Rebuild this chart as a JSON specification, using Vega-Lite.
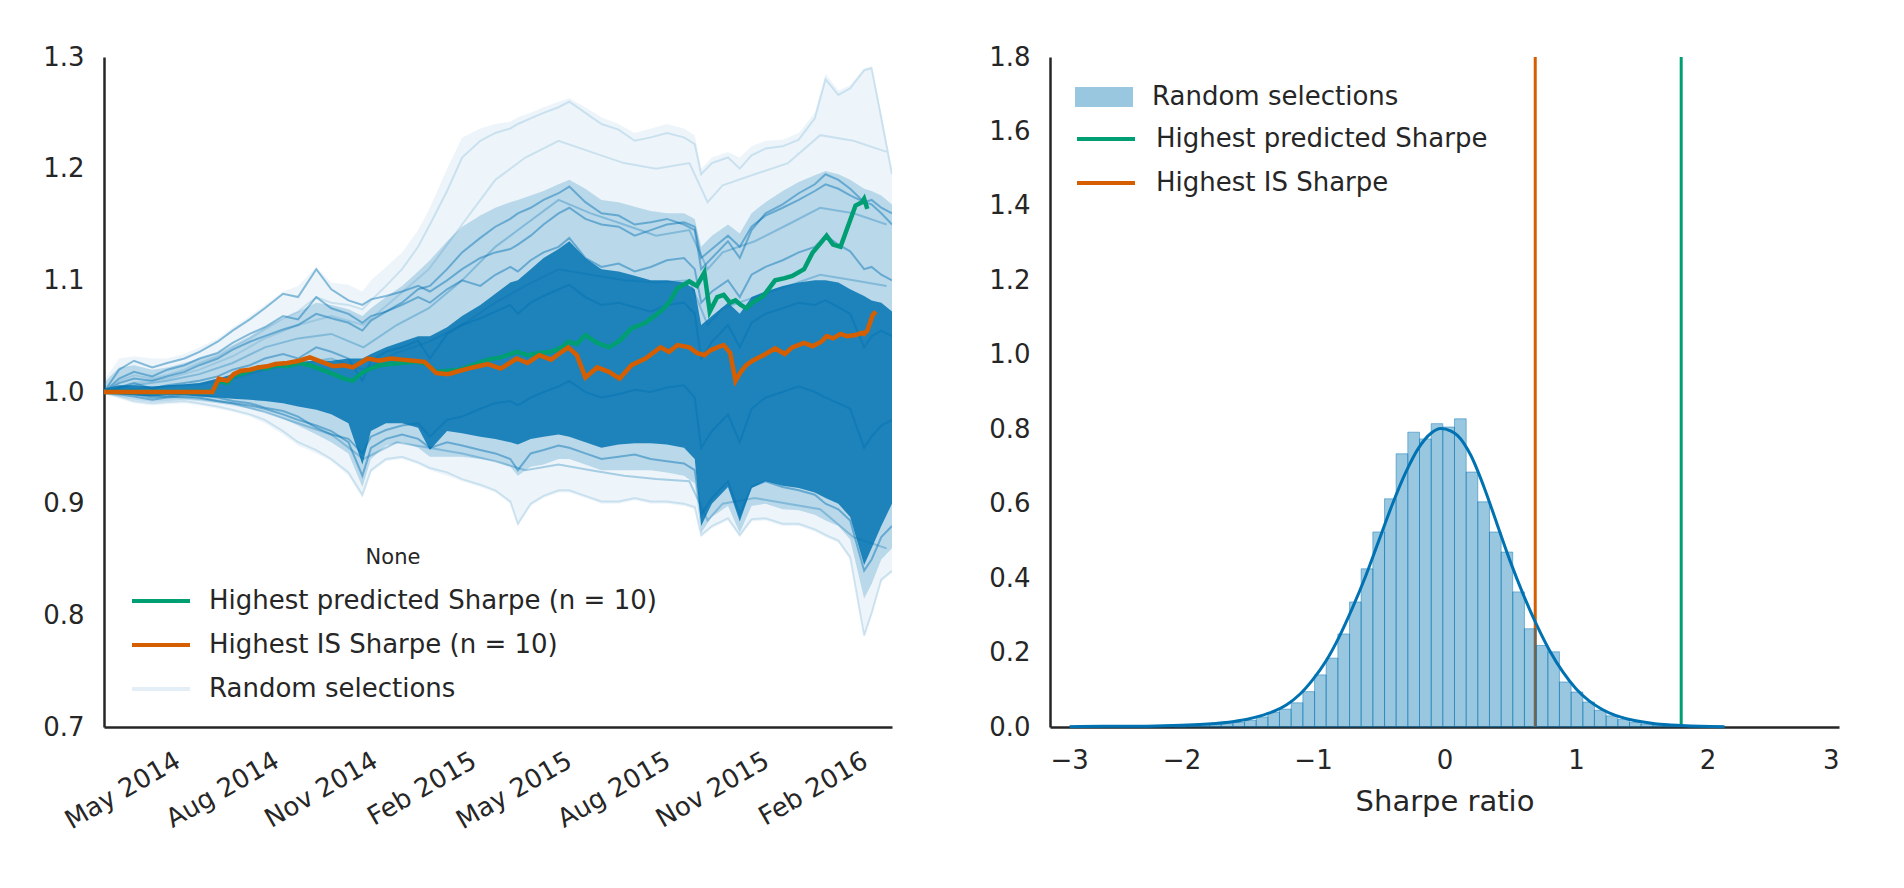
{
  "$schema": "https://vega.github.io/schema/vega-lite/v6.json",
  "background": "white",
  "padding": {"left": 42, "top": 44, "right": 10, "bottom": 10},
  "spacing": 96,
  "config": {
    "font": "DejaVu Sans",
    "view": {"stroke": null},
    "axis": {"grid": false, "ticks": false, "domainColor": "#262626", "domainWidth": 2.5, "labelFont": "DejaVu Sans", "labelFontSize": 26, "labelColor": "#262626", "labelPadding": 20, "titleFont": "DejaVu Sans", "titleFontSize": 29, "titleFontWeight": "normal", "titleColor": "#262626"},
    "legend": {"labelFont": "DejaVu Sans", "labelFontSize": 26, "labelColor": "#262626", "padding": 0, "labelLimit": 1000}
  },
  "datasets": {
    "band": [
      {"d":"2014-02-15","e0":0.998,"m0":0.998,"c0":0.999,"c1":1.003,"m1":1.008,"e1":1.010,"l1":1.000,"l2":1.000,"l3":1.000,"l4":1.000,"l5":1.000,"l6":1.000,"f1":1.000,"f2":1.000},
      {"d":"2014-03-01","e0":0.994,"m0":0.996,"c0":0.998,"c1":1.006,"m1":1.022,"e1":1.030,"l1":1.020,"l2":1.012,"l3":1.004,"l4":0.998,"l5":0.999,"l6":1.008,"f1":1.010,"f2":0.996},
      {"d":"2014-03-15","e0":0.990,"m0":0.993,"c0":0.997,"c1":1.006,"m1":1.024,"e1":1.032,"l1":1.028,"l2":1.018,"l3":1.008,"l4":0.996,"l5":0.998,"l6":1.012,"f1":1.015,"f2":0.992},
      {"d":"2014-04-01","e0":0.988,"m0":0.991,"c0":0.996,"c1":1.005,"m1":1.020,"e1":1.030,"l1":1.022,"l2":1.014,"l3":1.003,"l4":0.993,"l5":0.995,"l6":1.010,"f1":1.012,"f2":0.990},
      {"d":"2014-04-15","e0":0.989,"m0":0.992,"c0":0.997,"c1":1.006,"m1":1.022,"e1":1.030,"l1":1.026,"l2":1.020,"l3":1.006,"l4":0.995,"l5":0.996,"l6":1.014,"f1":1.015,"f2":0.991},
      {"d":"2014-05-01","e0":0.990,"m0":0.993,"c0":0.997,"c1":1.007,"m1":1.026,"e1":1.034,"l1":1.030,"l2":1.024,"l3":1.008,"l4":0.996,"l5":0.998,"l6":1.018,"f1":1.020,"f2":0.992},
      {"d":"2014-05-15","e0":0.988,"m0":0.992,"c0":0.996,"c1":1.008,"m1":1.030,"e1":1.040,"l1":1.036,"l2":1.030,"l3":1.010,"l4":0.995,"l5":0.997,"l6":1.024,"f1":1.026,"f2":0.990},
      {"d":"2014-06-01","e0":0.985,"m0":0.990,"c0":0.995,"c1":1.012,"m1":1.035,"e1":1.048,"l1":1.045,"l2":1.035,"l3":1.014,"l4":0.992,"l5":0.995,"l6":1.030,"f1":1.032,"f2":0.987},
      {"d":"2014-06-15","e0":0.982,"m0":0.988,"c0":0.994,"c1":1.016,"m1":1.042,"e1":1.058,"l1":1.055,"l2":1.044,"l3":1.020,"l4":0.990,"l5":0.992,"l6":1.038,"f1":1.040,"f2":0.984},
      {"d":"2014-07-01","e0":0.978,"m0":0.985,"c0":0.993,"c1":1.020,"m1":1.050,"e1":1.068,"l1":1.065,"l2":1.052,"l3":1.024,"l4":0.988,"l5":0.990,"l6":1.045,"f1":1.048,"f2":0.980},
      {"d":"2014-07-15","e0":0.972,"m0":0.982,"c0":0.992,"c1":1.022,"m1":1.058,"e1":1.078,"l1":1.075,"l2":1.058,"l3":1.030,"l4":0.985,"l5":0.986,"l6":1.050,"f1":1.056,"f2":0.975},
      {"d":"2014-08-01","e0":0.962,"m0":0.976,"c0":0.990,"c1":1.025,"m1":1.066,"e1":1.090,"l1":1.088,"l2":1.068,"l3":1.034,"l4":0.980,"l5":0.983,"l6":1.056,"f1":1.066,"f2":0.965},
      {"d":"2014-08-15","e0":0.952,"m0":0.970,"c0":0.987,"c1":1.027,"m1":1.072,"e1":1.095,"l1":1.085,"l2":1.065,"l3":1.030,"l4":0.975,"l5":0.978,"l6":1.060,"f1":1.072,"f2":0.955},
      {"d":"2014-09-01","e0":0.945,"m0":0.962,"c0":0.984,"c1":1.028,"m1":1.080,"e1":1.112,"l1":1.110,"l2":1.085,"l3":1.040,"l4":0.970,"l5":0.968,"l6":1.070,"f1":1.085,"f2":0.948},
      {"d":"2014-09-15","e0":0.938,"m0":0.955,"c0":0.980,"c1":1.028,"m1":1.078,"e1":1.098,"l1":1.092,"l2":1.075,"l3":1.036,"l4":0.965,"l5":0.962,"l6":1.066,"f1":1.080,"f2":0.940},
      {"d":"2014-10-01","e0":0.925,"m0":0.945,"c0":0.972,"c1":1.030,"m1":1.074,"e1":1.096,"l1":1.082,"l2":1.070,"l3":1.030,"l4":0.955,"l5":0.958,"l6":1.062,"f1":1.078,"f2":0.928},
      {"d":"2014-10-14","e0":0.905,"m0":0.915,"c0":0.935,"c1":1.030,"m1":1.068,"e1":1.090,"l1":1.078,"l2":1.062,"l3":1.010,"l4":0.925,"l5":0.945,"l6":1.055,"f1":1.074,"f2":0.908},
      {"d":"2014-10-22","e0":0.928,"m0":0.940,"c0":0.965,"c1":1.034,"m1":1.075,"e1":1.100,"l1":1.083,"l2":1.068,"l3":1.028,"l4":0.950,"l5":0.960,"l6":1.064,"f1":1.082,"f2":0.930},
      {"d":"2014-11-05","e0":0.938,"m0":0.952,"c0":0.972,"c1":1.040,"m1":1.085,"e1":1.112,"l1":1.086,"l2":1.072,"l3":1.036,"l4":0.958,"l5":0.966,"l6":1.072,"f1":1.095,"f2":0.940},
      {"d":"2014-11-20","e0":0.940,"m0":0.955,"c0":0.972,"c1":1.045,"m1":1.095,"e1":1.125,"l1":1.090,"l2":1.078,"l3":1.040,"l4":0.962,"l5":0.970,"l6":1.080,"f1":1.110,"f2":0.942},
      {"d":"2014-12-05","e0":0.935,"m0":0.950,"c0":0.968,"c1":1.050,"m1":1.108,"e1":1.145,"l1":1.095,"l2":1.085,"l3":1.046,"l4":0.958,"l5":0.972,"l6":1.092,"f1":1.130,"f2":0.937},
      {"d":"2014-12-16","e0":0.930,"m0":0.942,"c0":0.948,"c1":1.050,"m1":1.118,"e1":1.165,"l1":1.090,"l2":1.080,"l3":1.030,"l4":0.950,"l5":0.960,"l6":1.095,"f1":1.150,"f2":0.932},
      {"d":"2015-01-01","e0":0.925,"m0":0.942,"c0":0.965,"c1":1.058,"m1":1.135,"e1":1.200,"l1":1.100,"l2":1.092,"l3":1.052,"l4":0.955,"l5":0.975,"l6":1.110,"f1":1.180,"f2":0.928},
      {"d":"2015-01-15","e0":0.920,"m0":0.942,"c0":0.963,"c1":1.068,"m1":1.148,"e1":1.228,"l1":1.110,"l2":1.100,"l3":1.060,"l4":0.952,"l5":0.978,"l6":1.125,"f1":1.210,"f2":0.922},
      {"d":"2015-02-01","e0":0.915,"m0":0.940,"c0":0.960,"c1":1.078,"m1":1.158,"e1":1.236,"l1":1.120,"l2":1.095,"l3":1.066,"l4":0.948,"l5":0.985,"l6":1.138,"f1":1.225,"f2":0.917},
      {"d":"2015-02-15","e0":0.910,"m0":0.938,"c0":0.958,"c1":1.088,"m1":1.165,"e1":1.240,"l1":1.125,"l2":1.105,"l3":1.072,"l4":0.945,"l5":0.990,"l6":1.148,"f1":1.232,"f2":0.912},
      {"d":"2015-03-01","e0":0.900,"m0":0.933,"c0":0.955,"c1":1.098,"m1":1.170,"e1":1.242,"l1":1.128,"l2":1.112,"l3":1.078,"l4":0.940,"l5":0.992,"l6":1.155,"f1":1.236,"f2":0.902},
      {"d":"2015-03-08","e0":0.880,"m0":0.925,"c0":0.953,"c1":1.100,"m1":1.172,"e1":1.246,"l1":1.132,"l2":1.108,"l3":1.070,"l4":0.930,"l5":0.988,"l6":1.160,"f1":1.240,"f2":0.882},
      {"d":"2015-03-20","e0":0.898,"m0":0.933,"c0":0.958,"c1":1.110,"m1":1.176,"e1":1.250,"l1":1.140,"l2":1.118,"l3":1.080,"l4":0.945,"l5":0.995,"l6":1.165,"f1":1.245,"f2":0.900},
      {"d":"2015-04-01","e0":0.905,"m0":0.935,"c0":0.960,"c1":1.120,"m1":1.180,"e1":1.255,"l1":1.150,"l2":1.125,"l3":1.086,"l4":0.948,"l5":1.000,"l6":1.172,"f1":1.250,"f2":0.907},
      {"d":"2015-04-15","e0":0.910,"m0":0.940,"c0":0.962,"c1":1.128,"m1":1.186,"e1":1.260,"l1":1.160,"l2":1.130,"l3":1.092,"l4":0.952,"l5":1.005,"l6":1.178,"f1":1.255,"f2":0.912},
      {"d":"2015-04-25","e0":0.910,"m0":0.940,"c0":0.960,"c1":1.135,"m1":1.190,"e1":1.263,"l1":1.165,"l2":1.138,"l3":1.096,"l4":0.950,"l5":1.010,"l6":1.184,"f1":1.260,"f2":0.912},
      {"d":"2015-05-10","e0":0.905,"m0":0.935,"c0":0.955,"c1":1.120,"m1":1.182,"e1":1.255,"l1":1.155,"l2":1.120,"l3":1.085,"l4":0.945,"l5":1.000,"l6":1.170,"f1":1.250,"f2":0.907},
      {"d":"2015-05-25","e0":0.900,"m0":0.930,"c0":0.950,"c1":1.110,"m1":1.172,"e1":1.246,"l1":1.150,"l2":1.112,"l3":1.078,"l4":0.940,"l5":0.995,"l6":1.160,"f1":1.240,"f2":0.902},
      {"d":"2015-06-10","e0":0.900,"m0":0.930,"c0":0.953,"c1":1.108,"m1":1.170,"e1":1.240,"l1":1.148,"l2":1.115,"l3":1.080,"l4":0.942,"l5":0.998,"l6":1.158,"f1":1.235,"f2":0.902},
      {"d":"2015-06-25","e0":0.903,"m0":0.930,"c0":0.954,"c1":1.104,"m1":1.166,"e1":1.232,"l1":1.140,"l2":1.108,"l3":1.076,"l4":0.944,"l5":1.002,"l6":1.150,"f1":1.225,"f2":0.905},
      {"d":"2015-07-10","e0":0.900,"m0":0.930,"c0":0.954,"c1":1.100,"m1":1.162,"e1":1.236,"l1":1.145,"l2":1.112,"l3":1.072,"l4":0.940,"l5":1.000,"l6":1.152,"f1":1.228,"f2":0.902},
      {"d":"2015-07-25","e0":0.900,"m0":0.928,"c0":0.953,"c1":1.100,"m1":1.160,"e1":1.240,"l1":1.150,"l2":1.118,"l3":1.078,"l4":0.938,"l5":1.004,"l6":1.155,"f1":1.232,"f2":0.902},
      {"d":"2015-08-10","e0":0.898,"m0":0.925,"c0":0.950,"c1":1.098,"m1":1.160,"e1":1.236,"l1":1.152,"l2":1.120,"l3":1.080,"l4":0.936,"l5":1.006,"l6":1.150,"f1":1.228,"f2":0.900},
      {"d":"2015-08-20","e0":0.895,"m0":0.918,"c0":0.940,"c1":1.092,"m1":1.155,"e1":1.230,"l1":1.148,"l2":1.110,"l3":1.070,"l4":0.930,"l5":0.995,"l6":1.145,"f1":1.222,"f2":0.897},
      {"d":"2015-08-26","e0":0.870,"m0":0.874,"c0":0.880,"c1":1.060,"m1":1.130,"e1":1.200,"l1":1.120,"l2":1.080,"l3":1.030,"l4":0.890,"l5":0.950,"l6":1.110,"f1":1.195,"f2":0.872},
      {"d":"2015-09-05","e0":0.878,"m0":0.888,"c0":0.900,"c1":1.068,"m1":1.140,"e1":1.210,"l1":1.128,"l2":1.090,"l3":1.045,"l4":0.905,"l5":0.965,"l6":1.120,"f1":1.205,"f2":0.880},
      {"d":"2015-09-20","e0":0.885,"m0":0.898,"c0":0.915,"c1":1.080,"m1":1.150,"e1":1.215,"l1":1.140,"l2":1.100,"l3":1.060,"l4":0.920,"l5":0.980,"l6":1.135,"f1":1.210,"f2":0.887},
      {"d":"2015-10-01","e0":0.870,"m0":0.874,"c0":0.884,"c1":1.070,"m1":1.142,"e1":1.210,"l1":1.130,"l2":1.085,"l3":1.040,"l4":0.890,"l5":0.955,"l6":1.120,"f1":1.200,"f2":0.872},
      {"d":"2015-10-12","e0":0.884,"m0":0.898,"c0":0.914,"c1":1.085,"m1":1.160,"e1":1.220,"l1":1.148,"l2":1.105,"l3":1.062,"l4":0.915,"l5":0.985,"l6":1.145,"f1":1.212,"f2":0.886},
      {"d":"2015-10-25","e0":0.885,"m0":0.900,"c0":0.920,"c1":1.090,"m1":1.170,"e1":1.225,"l1":1.158,"l2":1.112,"l3":1.070,"l4":0.920,"l5":0.995,"l6":1.160,"f1":1.218,"f2":0.887},
      {"d":"2015-11-10","e0":0.880,"m0":0.895,"c0":0.916,"c1":1.095,"m1":1.180,"e1":1.226,"l1":1.165,"l2":1.118,"l3":1.075,"l4":0.915,"l5":1.000,"l6":1.168,"f1":1.220,"f2":0.882},
      {"d":"2015-11-25","e0":0.880,"m0":0.894,"c0":0.914,"c1":1.098,"m1":1.188,"e1":1.232,"l1":1.172,"l2":1.125,"l3":1.080,"l4":0.912,"l5":1.005,"l6":1.178,"f1":1.226,"f2":0.882},
      {"d":"2015-12-10","e0":0.875,"m0":0.890,"c0":0.910,"c1":1.100,"m1":1.194,"e1":1.250,"l1":1.180,"l2":1.130,"l3":1.078,"l4":0.908,"l5":1.000,"l6":1.186,"f1":1.245,"f2":0.877},
      {"d":"2015-12-20","e0":0.870,"m0":0.885,"c0":0.905,"c1":1.100,"m1":1.198,"e1":1.285,"l1":1.186,"l2":1.140,"l3":1.082,"l4":0.900,"l5":0.995,"l6":1.195,"f1":1.280,"f2":0.872},
      {"d":"2016-01-01","e0":0.865,"m0":0.880,"c0":0.900,"c1":1.098,"m1":1.195,"e1":1.270,"l1":1.182,"l2":1.132,"l3":1.076,"l4":0.895,"l5":0.990,"l6":1.190,"f1":1.266,"f2":0.867},
      {"d":"2016-01-12","e0":0.850,"m0":0.868,"c0":0.888,"c1":1.092,"m1":1.190,"e1":1.275,"l1":1.176,"l2":1.126,"l3":1.070,"l4":0.885,"l5":0.985,"l6":1.182,"f1":1.272,"f2":0.852},
      {"d":"2016-01-25","e0":0.780,"m0":0.815,"c0":0.845,"c1":1.086,"m1":1.182,"e1":1.290,"l1":1.170,"l2":1.110,"l3":1.040,"l4":0.840,"l5":0.950,"l6":1.170,"f1":1.288,"f2":0.782},
      {"d":"2016-02-01","e0":0.800,"m0":0.828,"c0":0.860,"c1":1.082,"m1":1.180,"e1":1.292,"l1":1.168,"l2":1.112,"l3":1.050,"l4":0.850,"l5":0.960,"l6":1.172,"f1":1.290,"f2":0.802},
      {"d":"2016-02-10","e0":0.830,"m0":0.850,"c0":0.880,"c1":1.080,"m1":1.176,"e1":1.250,"l1":1.160,"l2":1.105,"l3":1.055,"l4":0.870,"l5":0.970,"l6":1.165,"f1":1.245,"f2":0.832},
      {"d":"2016-02-20","e0":0.838,"m0":0.860,"c0":0.900,"c1":1.072,"m1":1.168,"e1":1.200,"l1":1.150,"l2":1.100,"l3":1.050,"l4":0.880,"l5":0.975,"l6":1.160,"f1":1.195,"f2":0.840}
    ],
    "ex": [
      {"d":"2014-02-15","n1":1.000,"n2":1.000,"n3":1.000,"n4":1.000},
      {"d":"2014-03-15","n1":1.006,"n2":0.998,"n3":1.003,"n4":1.008},
      {"d":"2014-04-15","n1":1.010,"n2":0.996,"n3":1.005,"n4":1.012},
      {"d":"2014-05-15","n1":1.016,"n2":0.994,"n3":1.007,"n4":1.020},
      {"d":"2014-06-15","n1":1.026,"n2":0.990,"n3":1.012,"n4":1.032},
      {"d":"2014-07-15","n1":1.040,"n2":0.982,"n3":1.020,"n4":1.048},
      {"d":"2014-08-15","n1":1.048,"n2":0.972,"n3":1.025,"n4":1.060},
      {"d":"2014-09-15","n1":1.052,"n2":0.962,"n3":1.030,"n4":1.068},
      {"d":"2014-10-15","n1":1.040,"n2":0.940,"n3":1.020,"n4":1.060},
      {"d":"2014-11-15","n1":1.060,"n2":0.955,"n3":1.035,"n4":1.085},
      {"d":"2014-12-15","n1":1.075,"n2":0.950,"n3":1.045,"n4":1.110},
      {"d":"2015-01-15","n1":1.100,"n2":0.945,"n3":1.060,"n4":1.150},
      {"d":"2015-02-15","n1":1.130,"n2":0.938,"n3":1.080,"n4":1.190},
      {"d":"2015-03-15","n1":1.150,"n2":0.930,"n3":1.095,"n4":1.210},
      {"d":"2015-04-15","n1":1.172,"n2":0.935,"n3":1.110,"n4":1.225},
      {"d":"2015-05-15","n1":1.160,"n2":0.930,"n3":1.105,"n4":1.215},
      {"d":"2015-06-15","n1":1.150,"n2":0.925,"n3":1.100,"n4":1.205},
      {"d":"2015-07-15","n1":1.140,"n2":0.922,"n3":1.098,"n4":1.200},
      {"d":"2015-08-15","n1":1.145,"n2":0.920,"n3":1.100,"n4":1.205},
      {"d":"2015-09-01","n1":1.110,"n2":0.885,"n3":1.060,"n4":1.170},
      {"d":"2015-09-15","n1":1.125,"n2":0.900,"n3":1.075,"n4":1.185},
      {"d":"2015-10-15","n1":1.135,"n2":0.905,"n3":1.085,"n4":1.195},
      {"d":"2015-11-15","n1":1.150,"n2":0.900,"n3":1.095,"n4":1.205},
      {"d":"2015-12-15","n1":1.165,"n2":0.895,"n3":1.105,"n4":1.230},
      {"d":"2016-01-15","n1":1.160,"n2":0.870,"n3":1.100,"n4":1.225},
      {"d":"2016-02-15","n1":1.150,"n2":0.860,"n3":1.095,"n4":1.215}
    ],
    "sel": [
      {"d":"2014-02-15","g":1.000,"o":1.000},
      {"d":"2014-05-27","g":1.000,"o":1.000},
      {"d":"2014-06-02","g":1.010,"o":1.012},
      {"d":"2014-06-10","g":1.008,"o":1.010},
      {"d":"2014-06-16","g":1.015,"o":1.016},
      {"d":"2014-06-23","g":1.016,"o":1.019},
      {"d":"2014-07-01","g":1.019,"o":1.020},
      {"d":"2014-07-09","g":1.022,"o":1.022},
      {"d":"2014-07-17","g":1.021,"o":1.023},
      {"d":"2014-07-25","g":1.024,"o":1.025},
      {"d":"2014-08-05","g":1.023,"o":1.026},
      {"d":"2014-08-16","g":1.026,"o":1.028},
      {"d":"2014-08-26","g":1.024,"o":1.031},
      {"d":"2014-09-06","g":1.020,"o":1.027},
      {"d":"2014-09-17","g":1.016,"o":1.023},
      {"d":"2014-09-27","g":1.012,"o":1.024},
      {"d":"2014-10-05","g":1.010,"o":1.022},
      {"d":"2014-10-12","g":1.016,"o":1.026},
      {"d":"2014-10-19","g":1.020,"o":1.030},
      {"d":"2014-10-30","g":1.024,"o":1.028},
      {"d":"2014-11-09","g":1.025,"o":1.030},
      {"d":"2014-11-20","g":1.026,"o":1.029},
      {"d":"2014-12-01","g":1.027,"o":1.028},
      {"d":"2014-12-11","g":1.026,"o":1.027},
      {"d":"2014-12-22","g":1.018,"o":1.017},
      {"d":"2015-01-02","g":1.019,"o":1.016},
      {"d":"2015-01-13","g":1.020,"o":1.019},
      {"d":"2015-01-25","g":1.024,"o":1.022},
      {"d":"2015-02-08","g":1.029,"o":1.025},
      {"d":"2015-02-20","g":1.031,"o":1.021},
      {"d":"2015-03-07","g":1.036,"o":1.030},
      {"d":"2015-03-17","g":1.033,"o":1.026},
      {"d":"2015-03-28","g":1.035,"o":1.033},
      {"d":"2015-04-08","g":1.036,"o":1.029},
      {"d":"2015-04-18","g":1.040,"o":1.036},
      {"d":"2015-04-24","g":1.045,"o":1.040},
      {"d":"2015-05-02","g":1.043,"o":1.033},
      {"d":"2015-05-10","g":1.051,"o":1.013},
      {"d":"2015-05-21","g":1.044,"o":1.022},
      {"d":"2015-06-01","g":1.040,"o":1.018},
      {"d":"2015-06-11","g":1.046,"o":1.012},
      {"d":"2015-06-22","g":1.057,"o":1.024},
      {"d":"2015-07-05","g":1.062,"o":1.030},
      {"d":"2015-07-19","g":1.072,"o":1.040},
      {"d":"2015-07-27","g":1.080,"o":1.036},
      {"d":"2015-08-04","g":1.093,"o":1.042},
      {"d":"2015-08-15","g":1.099,"o":1.040},
      {"d":"2015-08-22","g":1.095,"o":1.035},
      {"d":"2015-08-29","g":1.107,"o":1.033},
      {"d":"2015-09-03","g":1.072,"o":1.037},
      {"d":"2015-09-10","g":1.085,"o":1.040},
      {"d":"2015-09-16","g":1.087,"o":1.042},
      {"d":"2015-09-22","g":1.080,"o":1.035},
      {"d":"2015-09-27","g":1.082,"o":1.010},
      {"d":"2015-10-02","g":1.078,"o":1.018},
      {"d":"2015-10-07","g":1.075,"o":1.024},
      {"d":"2015-10-13","g":1.080,"o":1.028},
      {"d":"2015-10-23","g":1.086,"o":1.033},
      {"d":"2015-11-03","g":1.100,"o":1.039},
      {"d":"2015-11-12","g":1.102,"o":1.034},
      {"d":"2015-11-19","g":1.104,"o":1.040},
      {"d":"2015-11-30","g":1.110,"o":1.044},
      {"d":"2015-12-08","g":1.125,"o":1.041},
      {"d":"2015-12-16","g":1.134,"o":1.045},
      {"d":"2015-12-21","g":1.140,"o":1.050},
      {"d":"2015-12-27","g":1.132,"o":1.048},
      {"d":"2016-01-03","g":1.130,"o":1.052},
      {"d":"2016-01-09","g":1.146,"o":1.050},
      {"d":"2016-01-17","g":1.167,"o":1.051},
      {"d":"2016-01-23","g":1.170,"o":1.053},
      {"d":"2016-01-25","g":1.173,"o":1.052},
      {"d":"2016-01-28","g":1.164,"o":1.055},
      {"d":"2016-02-02","g":null,"o":1.069},
      {"d":"2016-02-05","g":null,"o":1.072}
    ],
    "hist": [
      {"lo":-2.851,"hi":-2.762,"v":0.003},
      {"lo":-2.762,"hi":-2.674,"v":0},
      {"lo":-2.674,"hi":-2.585,"v":0},
      {"lo":-2.585,"hi":-2.496,"v":0.003},
      {"lo":-2.496,"hi":-2.408,"v":0},
      {"lo":-2.408,"hi":-2.319,"v":0.003},
      {"lo":-2.319,"hi":-2.230,"v":0},
      {"lo":-2.230,"hi":-2.141,"v":0.003},
      {"lo":-2.141,"hi":-2.053,"v":0.003},
      {"lo":-2.053,"hi":-1.964,"v":0},
      {"lo":-1.964,"hi":-1.875,"v":0.003},
      {"lo":-1.875,"hi":-1.787,"v":0.006},
      {"lo":-1.787,"hi":-1.698,"v":0.006},
      {"lo":-1.698,"hi":-1.609,"v":0.009},
      {"lo":-1.609,"hi":-1.521,"v":0.012},
      {"lo":-1.521,"hi":-1.432,"v":0.018},
      {"lo":-1.432,"hi":-1.343,"v":0.027},
      {"lo":-1.343,"hi":-1.255,"v":0.040},
      {"lo":-1.255,"hi":-1.166,"v":0.048},
      {"lo":-1.166,"hi":-1.077,"v":0.065},
      {"lo":-1.077,"hi":-0.988,"v":0.095},
      {"lo":-0.988,"hi":-0.900,"v":0.140},
      {"lo":-0.900,"hi":-0.811,"v":0.185},
      {"lo":-0.811,"hi":-0.722,"v":0.250},
      {"lo":-0.722,"hi":-0.634,"v":0.336},
      {"lo":-0.634,"hi":-0.545,"v":0.425},
      {"lo":-0.545,"hi":-0.456,"v":0.524},
      {"lo":-0.456,"hi":-0.368,"v":0.613},
      {"lo":-0.368,"hi":-0.279,"v":0.734},
      {"lo":-0.279,"hi":-0.190,"v":0.792},
      {"lo":-0.190,"hi":-0.101,"v":0.774},
      {"lo":-0.101,"hi":-0.013,"v":0.815},
      {"lo":-0.013,"hi":0.076,"v":0.806},
      {"lo":0.076,"hi":0.165,"v":0.828},
      {"lo":0.165,"hi":0.253,"v":0.685},
      {"lo":0.253,"hi":0.342,"v":0.605},
      {"lo":0.342,"hi":0.431,"v":0.524},
      {"lo":0.431,"hi":0.519,"v":0.470},
      {"lo":0.519,"hi":0.608,"v":0.363},
      {"lo":0.608,"hi":0.697,"v":0.264},
      {"lo":0.697,"hi":0.786,"v":0.219},
      {"lo":0.786,"hi":0.874,"v":0.202},
      {"lo":0.874,"hi":0.963,"v":0.121},
      {"lo":0.963,"hi":1.052,"v":0.094},
      {"lo":1.052,"hi":1.140,"v":0.067},
      {"lo":1.140,"hi":1.229,"v":0.045},
      {"lo":1.229,"hi":1.318,"v":0.030},
      {"lo":1.318,"hi":1.407,"v":0.020},
      {"lo":1.407,"hi":1.495,"v":0.012},
      {"lo":1.495,"hi":1.584,"v":0.008},
      {"lo":1.584,"hi":1.673,"v":0.005},
      {"lo":1.673,"hi":1.761,"v":0.003},
      {"lo":1.761,"hi":1.850,"v":0.003},
      {"lo":1.850,"hi":1.939,"v":0},
      {"lo":1.939,"hi":2.028,"v":0},
      {"lo":2.028,"hi":2.116,"v":0.003}
    ],
    "kde": [
      {"x":-2.85,"y":0.001},{"x":-2.6,"y":0.002},{"x":-2.4,"y":0.002},{"x":-2.2,"y":0.003},
      {"x":-2.0,"y":0.005},{"x":-1.8,"y":0.008},{"x":-1.6,"y":0.015},{"x":-1.5,"y":0.021},
      {"x":-1.4,"y":0.030},{"x":-1.3,"y":0.042},{"x":-1.2,"y":0.060},{"x":-1.1,"y":0.088},
      {"x":-1.0,"y":0.128},{"x":-0.9,"y":0.178},{"x":-0.8,"y":0.243},{"x":-0.7,"y":0.320},
      {"x":-0.6,"y":0.405},{"x":-0.5,"y":0.500},{"x":-0.4,"y":0.595},{"x":-0.3,"y":0.680},
      {"x":-0.2,"y":0.748},{"x":-0.1,"y":0.790},{"x":-0.03,"y":0.802},{"x":0.05,"y":0.795},
      {"x":0.1,"y":0.783},{"x":0.2,"y":0.730},{"x":0.3,"y":0.645},{"x":0.4,"y":0.545},
      {"x":0.5,"y":0.445},{"x":0.6,"y":0.355},{"x":0.7,"y":0.275},{"x":0.8,"y":0.205},
      {"x":0.9,"y":0.148},{"x":1.0,"y":0.103},{"x":1.1,"y":0.070},{"x":1.2,"y":0.047},
      {"x":1.3,"y":0.031},{"x":1.4,"y":0.021},{"x":1.5,"y":0.014},{"x":1.6,"y":0.009},
      {"x":1.7,"y":0.006},{"x":1.8,"y":0.004},{"x":1.95,"y":0.002},{"x":2.13,"y":0.001}
    ]
  },
  "hconcat": [
    {
      "width": 788,
      "height": 670,
      "data": {"name": "band"},
      "encoding": {
        "x": {"field": "d", "type": "temporal",
          "scale": {"domain": [{"year": 2014, "month": 2, "date": 15}, {"year": 2016, "month": 2, "date": 20}]},
          "axis": {"title": null, "format": "%b %Y", "labelAngle": -30, "labelAlign": "right", "labelBaseline": "top", "labelOffset": -13, "labelPadding": 20, "labelOverlap": false,
            "values": [{"year": 2014, "month": 5, "date": 1}, {"year": 2014, "month": 8, "date": 1}, {"year": 2014, "month": 11, "date": 1}, {"year": 2015, "month": 2, "date": 1}, {"year": 2015, "month": 5, "date": 1}, {"year": 2015, "month": 8, "date": 1}, {"year": 2015, "month": 11, "date": 1}, {"year": 2016, "month": 2, "date": 1}]}
        }
      },
      "layer": [
        {"mark": {"type": "area", "color": "#0072B2", "opacity": 0.07, "clip": true},
         "encoding": {"y": {"field": "e0", "type": "quantitative", "scale": {"domain": [0.7, 1.3], "nice": false, "zero": false},
            "axis": {"title": null, "values": [0.7, 0.8, 0.9, 1.0, 1.1, 1.2, 1.3], "format": ".1f", "minExtent": 62, "maxExtent": 62, "labelOverlap": false}},
           "y2": {"field": "e1"}}},
        {"mark": {"type": "area", "color": "#0072B2", "opacity": 0.22, "clip": true},
         "encoding": {"y": {"field": "m0", "type": "quantitative",
            "axis": {"title": null, "values": [0.7, 0.8, 0.9, 1.0, 1.1, 1.2, 1.3], "format": ".1f", "minExtent": 62, "maxExtent": 62, "labelOverlap": false}},
           "y2": {"field": "m1"}}},
        {"mark": {"type": "area", "color": "#0072B2", "opacity": 0.84, "clip": true},
         "encoding": {"y": {"field": "c0", "type": "quantitative",
            "axis": {"title": null, "values": [0.7, 0.8, 0.9, 1.0, 1.1, 1.2, 1.3], "format": ".1f", "minExtent": 62, "maxExtent": 62, "labelOverlap": false}},
           "y2": {"field": "c1"}}},
        {"transform": [{"fold": ["f1", "f2"], "as": ["k", "v"]}],
         "mark": {"type": "line", "color": "#0072B2", "opacity": 0.15, "strokeWidth": 2, "clip": true},
         "encoding": {"y": {"field": "v", "type": "quantitative",
            "axis": {"title": null, "values": [0.7, 0.8, 0.9, 1.0, 1.1, 1.2, 1.3], "format": ".1f", "minExtent": 62, "maxExtent": 62, "labelOverlap": false}},
           "detail": {"field": "k", "type": "nominal"}}},
        {"data": {"name": "ex"},
         "transform": [{"fold": ["n1", "n2", "n3"], "as": ["k", "v"]}],
         "mark": {"type": "line", "color": "#0072B2", "opacity": 0.3, "strokeWidth": 2, "clip": true},
         "encoding": {"y": {"field": "v", "type": "quantitative",
            "axis": {"title": null, "values": [0.7, 0.8, 0.9, 1.0, 1.1, 1.2, 1.3], "format": ".1f", "minExtent": 62, "maxExtent": 62, "labelOverlap": false}},
           "detail": {"field": "k", "type": "nominal"}}},
        {"data": {"name": "ex"},
         "mark": {"type": "line", "color": "#0072B2", "opacity": 0.15, "strokeWidth": 2, "clip": true},
         "encoding": {"y": {"field": "n4", "type": "quantitative",
            "axis": {"title": null, "values": [0.7, 0.8, 0.9, 1.0, 1.1, 1.2, 1.3], "format": ".1f", "minExtent": 62, "maxExtent": 62, "labelOverlap": false}}}},
        {"transform": [{"fold": ["l1", "l2", "l3", "l4", "l5", "l6"], "as": ["k", "v"]}],
         "mark": {"type": "line", "color": "#0072B2", "opacity": 0.45, "strokeWidth": 2, "clip": true},
         "encoding": {"y": {"field": "v", "type": "quantitative",
            "axis": {"title": null, "values": [0.7, 0.8, 0.9, 1.0, 1.1, 1.2, 1.3], "format": ".1f", "minExtent": 62, "maxExtent": 62, "labelOverlap": false}},
           "detail": {"field": "k", "type": "nominal"}}},
        {"data": {"name": "sel"},
         "transform": [{"fold": ["g", "o"], "as": ["s", "v"]}],
         "mark": {"type": "line", "strokeWidth": 4.5, "clip": true},
         "encoding": {"y": {"field": "v", "type": "quantitative",
            "axis": {"title": null, "values": [0.7, 0.8, 0.9, 1.0, 1.1, 1.2, 1.3], "format": ".1f", "minExtent": 62, "maxExtent": 62, "labelOverlap": false}},
           "color": {"field": "s", "type": "nominal",
             "scale": {"domain": ["g", "o", "r"], "range": ["#009E73", "#D55E00", "#e3eef6"]},
             "legend": {"orient": "none", "legendX": 26, "legendY": 490, "title": "None", "titleFontSize": 21, "titleFontWeight": "normal", "titleColor": "#262626", "titleAnchor": "middle", "titlePadding": 2,
               "symbolType": "stroke", "symbolSize": 3364, "symbolStrokeWidth": 4, "labelOffset": 17, "rowPadding": 0,
               "labelExpr": "datum.value == 'g' ? 'Highest predicted Sharpe (n = 10)' : datum.value == 'o' ? 'Highest IS Sharpe (n = 10)' : 'Random selections'"}}}}
      ]
    },
    {
      "width": 789,
      "height": 670,
      "layer": [
        {"data": {"values": [{"x": 1.80, "lab": "Highest predicted Sharpe"}, {"x": 0.69, "lab": "Highest IS Sharpe"}]},
         "mark": {"type": "rule", "strokeWidth": 3},
         "encoding": {
           "x": {"field": "x", "type": "quantitative", "scale": {"domain": [-3, 3], "nice": false, "zero": false},
             "axis": {"title": "Sharpe ratio", "values": [-3, -2, -1, 0, 1, 2, 3], "format": "d", "titlePadding": 14, "labelOverlap": false}},
           "stroke": {"field": "lab", "type": "nominal",
             "scale": {"domain": ["Highest predicted Sharpe", "Highest IS Sharpe"], "range": ["#009E73", "#D55E00"]},
             "legend": {"orient": "none", "legendX": 971, "legendY": 51, "title": null, "symbolType": "stroke", "symbolSize": 3364, "symbolStrokeWidth": 4, "labelOffset": 19, "rowPadding": 0}}}},
        {"data": {"name": "hist"},
         "mark": {"type": "bar", "fillOpacity": 0.4, "stroke": "#0072B2", "strokeOpacity": 0.45, "strokeWidth": 1},
         "encoding": {
           "x": {"field": "lo", "type": "quantitative",
             "axis": {"title": "Sharpe ratio", "values": [-3, -2, -1, 0, 1, 2, 3], "format": "d", "titlePadding": 14, "labelOverlap": false}},
           "x2": {"field": "hi"},
           "y": {"field": "v", "type": "quantitative", "scale": {"domain": [0, 1.8], "nice": false},
             "axis": {"title": null, "values": [0, 0.2, 0.4, 0.6, 0.8, 1.0, 1.2, 1.4, 1.6, 1.8], "format": ".1f", "minExtent": 62, "maxExtent": 62, "labelOverlap": false}},
           "y2": {"datum": 0},
           "fill": {"datum": "Random selections", "type": "nominal", "scale": {"range": ["#0072B2"]},
             "legend": {"orient": "none", "legendX": 971, "legendY": 11, "title": null, "symbolType": "M-1,-0.345H1V0.345H-1Z", "symbolSize": 3364, "symbolOpacity": 0.4, "symbolStrokeWidth": 0, "labelOffset": 19}}}},
        {"data": {"name": "kde"},
         "mark": {"type": "line", "color": "#0072B2", "strokeWidth": 3, "interpolate": "monotone"},
         "encoding": {
           "x": {"field": "x", "type": "quantitative",
             "axis": {"title": "Sharpe ratio", "values": [-3, -2, -1, 0, 1, 2, 3], "format": "d", "titlePadding": 14, "labelOverlap": false}},
           "y": {"field": "y", "type": "quantitative",
             "axis": {"title": null, "values": [0, 0.2, 0.4, 0.6, 0.8, 1.0, 1.2, 1.4, 1.6, 1.8], "format": ".1f", "minExtent": 62, "maxExtent": 62, "labelOverlap": false}}}}
      ]
    }
  ]
}
